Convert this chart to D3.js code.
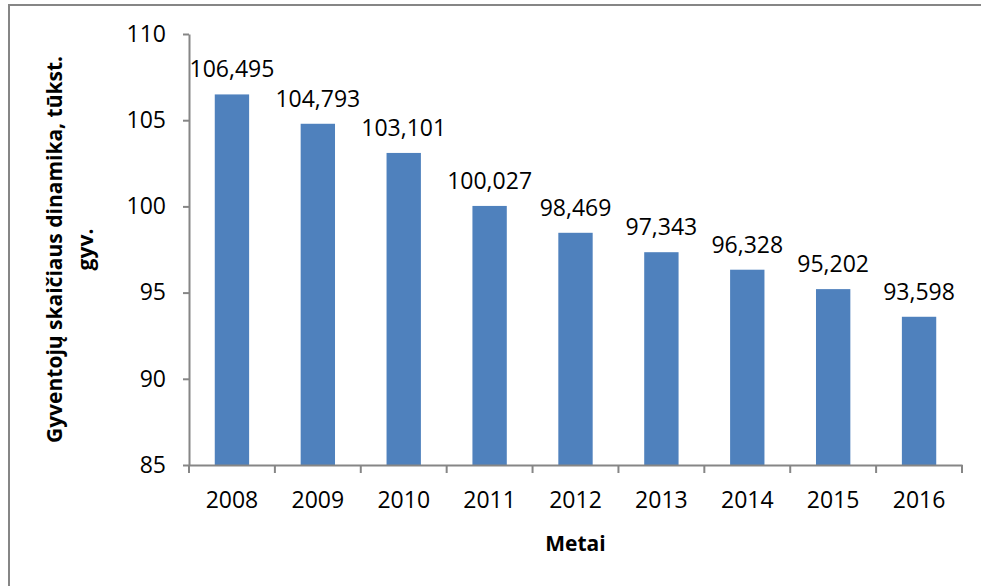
<!DOCTYPE html>
<html><head><meta charset="utf-8">
<script src="https://cdn.jsdelivr.net/npm/d3@7"></script>
<style>body{margin:0;background:#fff}svg{display:block}</style>
</head><body>
<svg id="c" width="981" height="586"></svg>
<script>
const years = ["2008","2009","2010","2011","2012","2013","2014","2015","2016"];
const values = [106.495,104.793,103.101,100.027,98.469,97.343,96.328,95.202,93.598];
const yTicks = [85,90,95,100,105,110];
const yTitle = ["Gyventojų skaičiaus dinamika, tūkst.", "gyv."];
const xTitle = "Metai";

(function(){
const svg = d3.select("#c");
const font = "'Open Sans', sans-serif";
const mLeft = 189, mRight = 962, mTop = 34, mBottom = 465;

svg.append("rect").attr("x",9).attr("y",5).attr("width",990).attr("height",600)
  .attr("fill","none").attr("stroke","#868686").attr("stroke-width",2);

const xb = d3.scaleBand().domain(years).range([mLeft,mRight]);
const y = d3.scaleLinear().domain([85,110]).range([mBottom,mTop]);
const barW = xb.bandwidth()/2.5;

svg.selectAll("rect.bar").data(values).enter().append("rect").attr("class","bar")
  .attr("x",(d,i)=>xb(years[i])+xb.bandwidth()/2-barW/2)
  .attr("width",barW)
  .attr("y",d=>y(d)).attr("height",d=>mBottom-y(d))
  .attr("fill","#4F81BD");

svg.selectAll("text.lab").data(values).enter().append("text").attr("class","lab")
  .attr("x",(d,i)=>xb(years[i])+xb.bandwidth()/2)
  .attr("y",d=>y(d)-17)
  .attr("text-anchor","middle").attr("font-family",font).attr("font-size",23).attr("fill","#000")
  .text(d=>d3.format(".3f")(d).replace(".",","));

const yAxis = svg.append("g").attr("transform",`translate(${mLeft},0)`)
  .call(d3.axisLeft(y).tickValues(yTicks).tickSize(6).tickPadding(17).tickSizeOuter(0));
const xAxis = svg.append("g").attr("transform",`translate(0,${mBottom})`)
  .call(d3.axisBottom(xb).tickSize(0).tickPadding(27).tickSizeOuter(0));
const bounds = years.map(d=>xb(d)).concat([mRight]);
xAxis.selectAll("line.bt").data(bounds).enter().append("line").attr("class","bt")
  .attr("x1",d=>d).attr("x2",d=>d).attr("y1",0).attr("y2",8).attr("stroke","#868686").attr("stroke-width",2);

[yAxis,xAxis].forEach(g=>{
  g.select(".domain").attr("stroke","#868686").attr("stroke-width",2);
  g.selectAll(".tick line").attr("stroke","#868686").attr("stroke-width",2);
  g.selectAll("text").attr("font-family",font).attr("font-size",23).attr("fill","#000");
});

svg.append("text").attr("x",(mLeft+mRight)/2).attr("y",551).attr("text-anchor","middle")
  .attr("font-family",font).attr("font-size",21).attr("font-weight","bold").text(xTitle);

const yt = svg.append("text").attr("transform",`translate(0,${(mTop+mBottom)/2}) rotate(-90)`)
  .attr("text-anchor","middle").attr("font-family",font).attr("font-size",21).attr("font-weight","bold");
yt.append("tspan").attr("x",0).attr("y",62).text(yTitle[0]);
yt.append("tspan").attr("x",0).attr("y",93).text(yTitle[1]);
})();
</script>
</body></html>
